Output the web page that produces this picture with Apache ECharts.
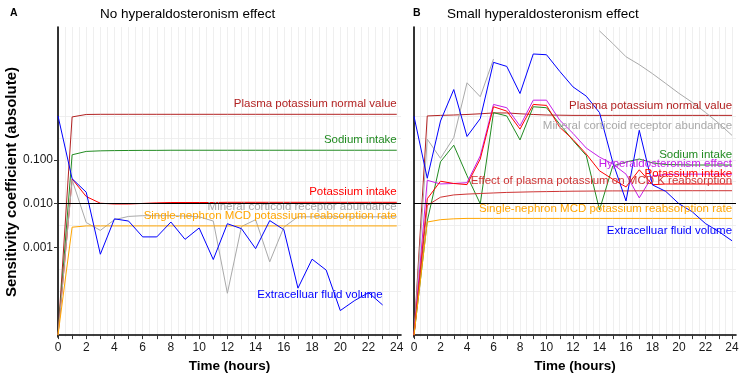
<!DOCTYPE html>
<html>
<head>
<meta charset="utf-8">
<title>Sensitivity coefficients over time</title>
<script src="https://cdn.jsdelivr.net/npm/echarts@6/dist/echarts.min.js"></script>
<style>
  html, body { margin: 0; padding: 0; background: #fff; }
  #chart { width: 748px; height: 378px; }
</style>
</head>
<body>
<div id="chart"></div>
<script>
// --- data (sensitivity coefficients, absolute) ---
const hours = [0, 1, 2, 3, 4, 5, 6, 7, 8, 9, 10, 11, 12, 13, 14, 15, 16, 17, 18, 19, 20, 21, 22, 23, 24]
const xTickValues = [0, 1, 2, 3, 4, 5, 6, 7, 8, 9, 10, 11, 12, 13, 14, 15, 16, 17, 18, 19, 20, 21, 22, 23, 24]
const xLabelValues = [0, 2, 4, 6, 8, 10, 12, 14, 16, 18, 20, 22, 24]
const yTickValues = [0.001, 0.01, 0.1]
const yTickLabels = ['0.001', '0.010', '0.100']
const refLine = 0.01

// Panel A: no hyperaldosteronism effect
const plasmaA = [0, 0.95, 1.08, 1.09, 1.09, 1.09, 1.09, 1.09, 1.09, 1.09, 1.09, 1.09, 1.09, 1.09, 1.09, 1.09, 1.09, 1.09, 1.09, 1.09, 1.09, 1.09, 1.09, 1.09, 1.09]
const sodiumA = [0, 0.13, 0.155, 0.16, 0.162, 0.163, 0.164, 0.164, 0.165, 0.165, 0.165, 0.165, 0.165, 0.165, 0.165, 0.165, 0.165, 0.165, 0.165, 0.165, 0.165, 0.165, 0.165, 0.165, 0.165]
const potassiumA = [0, 0.0366, 0.0145, 0.0102, 0.0098, 0.0098, 0.0101, 0.0104, 0.0106, 0.0106, 0.0106, 0.0106, 0.0107, 0.0107, 0.0107, 0.0107, 0.0107, 0.0107, 0.0107, 0.0107, 0.0107, 0.0107, 0.0107, 0.0107, 0.0107]
const mineralA = [0, 0.0347, 0.0037, 0.00245, 0.0043, 0.0051, 0.0053, 0.0053, 0.0053, 0.0052, 0.005, 0.004, 0.000089, 0.003, 0.0043, 0.00047, 0.0029, 0.005, 0.005, 0.005, 0.005, 0.005, 0.005, 0.005, 0.005]
const mcdA = [0, 0.0029, 0.0031, 0.0031, 0.0031, 0.0031, 0.0031, 0.0031, 0.0031, 0.0031, 0.0031, 0.0031, 0.0031, 0.0031, 0.0031, 0.0031, 0.0031, 0.0031, 0.0031, 0.0031, 0.0031, 0.0031, 0.0031, 0.0031, 0.0031]
const ecfA = [1.0, 0.037, 0.0182, 0.0007, 0.0045, 0.004, 0.00174, 0.00174, 0.0038, 0.00153, 0.00278, 0.00053, 0.00348, 0.00268, 0.00094, 0.0041, 0.00255, 0.000117, 0.00054, 0.000304, 0.0000336, 0.0000594, 0.000092, 0.0000466]

// Panel B: small hyperaldosteronism effect
const plasmaB = [0, 1.0, 1.03, 1.05, 1.08, 1.12, 1.17, 1.17, 1.12, 1.08, 1.05, 1.04, 1.03, 1.03, 1.03, 1.03, 1.03, 1.03, 1.03, 1.03, 1.03, 1.03, 1.03, 1.03, 1.03]
const mineralB = [0, 0.295, 0.108, 0.32, 5.7, 2.74, 19.9, null, null, null, null, null, null, null, 87, 45, 22.4, 14.8, 9.2, 5.5, 3.27, 2.04, 1.2, 0.68, 0.36]
const sodiumB = [0, 0.004, 0.09, 0.215, 0.0434, 0.0099, 1.19, 1.0, 0.284, 1.62, 1.54, 0.65, 0.275, 0.125, 0.0072, 0.072, 0.089, 0.104, 0.085, 0.078, 0.077, 0.076, 0.076, 0.076, 0.076]
const hyperB = [0, 0.034, 0.0281, 0.0288, 0.03, 0.123, 1.83, 1.54, 0.59, 2.29, 2.29, 0.8, 0.4, 0.185, 0.115, 0.08, 0.047, 0.0135, 0.043, 0.046, 0.047, 0.047, 0.047, 0.047, 0.047]
const potassiumB = [0, 0.0129, 0.0324, 0.0288, 0.0271, 0.104, 1.62, 1.29, 0.5, 1.83, 1.74, 0.55, 0.29, 0.135, 0.056, 0.036, 0.024, 0.059, 0.027, 0.028, 0.028, 0.028, 0.028, 0.028, 0.028]
const effectB = [0, 0.0091, 0.014, 0.0158, 0.0165, 0.017, 0.0175, 0.018, 0.0183, 0.0186, 0.0188, 0.019, 0.0192, 0.0193, 0.0194, 0.0195, 0.0195, 0.0196, 0.0196, 0.0197, 0.0197, 0.0197, 0.0197, 0.0197, 0.0197]
const mcdB = [0, 0.0038, 0.0043, 0.0045, 0.0046, 0.0046, 0.0046, 0.0046, 0.0046, 0.0046, 0.0046, 0.0046, 0.0046, 0.0046, 0.0046, 0.0046, 0.0046, 0.0046, 0.0046, 0.0046, 0.0046, 0.0046, 0.0046, 0.0046, 0.0046]
const ecfB = [0.98, 0.0379, 0.766, 4.0, 0.34, 0.87, 16.7, 13.5, 3.25, 25.9, 24.9, 10.4, 4.6, 2.83, 1.19, 0.088, 0.0115, 0.47, 0.0267, 0.019, 0.0099, 0.0065, 0.0035, 0.0023, 0.00142]

const FONT = '"Liberation Sans", Arial, sans-serif'
const GRID_COLOR = '#ebebeb'

// pseudo-log scale (asinh with sigma = 1e-5), the y axis works in these units
const SIGMA = 1e-5
const tr = v => (v == null ? null : Math.asinh(v / (2 * SIGMA)))

const yTickU = yTickValues.map(tr)
// minor grid lines: midpoints between majors, extended one step each way
const step = yTickU[1] - yTickU[0]
const ext = [yTickU[0] - step, ...yTickU, yTickU[yTickU.length - 1] + step]
const yGridU = []
ext.forEach((u, i) => {
  yGridU.push(u)
  if (i < ext.length - 1) yGridU.push(u + step / 2)
})
const xGridValues = []
for (let t = 0; t <= 24; t += 0.5) xGridValues.push(t)

const Y_MIN = -0.104
const Y_MAX = 16.185
const X_MAX = 24.3

function mainX(gridIndex, showName) {
  return {
    type: 'value', gridIndex, min: 0, max: X_MAX,
    axisLine: { show: true, lineStyle: { color: '#000', width: 1.6 } },
    axisTick: { show: true, length: 4, customValues: xTickValues, lineStyle: { color: '#333', width: 1 } },
    axisLabel: { customValues: xLabelValues, margin: 5, fontSize: 12, color: '#1a1a1a', fontFamily: FONT },
    splitLine: { show: false },
    name: showName ? 'Time (hours)' : '',
    nameLocation: 'middle', nameGap: 20,
    nameTextStyle: { fontSize: 13.5, fontWeight: 'bold', color: '#000', fontFamily: FONT },
  }
}
function gridX(gridIndex) {
  return {
    type: 'value', gridIndex, min: 0, max: X_MAX,
    axisLine: { show: false },
    axisTick: { show: false, customValues: xGridValues },
    axisLabel: { show: false },
    splitLine: { show: true, lineStyle: { color: GRID_COLOR, width: 0.8 } },
  }
}
function mainY(gridIndex, withLabels) {
  return {
    type: 'value', gridIndex, min: Y_MIN, max: Y_MAX,
    axisLine: { show: true, lineStyle: { color: '#000', width: 1.6 } },
    axisTick: { show: withLabels, length: 4, customValues: yTickU, lineStyle: { color: '#333', width: 1 } },
    axisLabel: {
      show: withLabels, customValues: yTickU, margin: 5, fontSize: 12, color: '#1a1a1a', fontFamily: FONT,
      formatter: val => {
        const i = yTickU.findIndex(u => Math.abs(u - val) < 1e-6)
        return i < 0 ? '' : yTickLabels[i]
      },
    },
    splitLine: { show: false },
    name: withLabels ? 'Sensitivity coefficient (absolute)' : '',
    nameLocation: 'middle', nameGap: 34,
    nameTextStyle: { fontSize: 15, fontWeight: 'bold', color: '#000', fontFamily: FONT },
  }
}
function gridY(gridIndex) {
  return {
    type: 'value', gridIndex, min: Y_MIN, max: Y_MAX,
    axisLine: { show: false },
    axisTick: { show: false, customValues: yGridU },
    axisLabel: { show: false },
    splitLine: { show: true, lineStyle: { color: GRID_COLOR, width: 0.8 } },
  }
}

function line(name, color, values, panel, withRef) {
  const s = {
    name, type: 'line',
    xAxisIndex: panel * 2, yAxisIndex: panel * 2,
    data: values.map((v, i) => [hours[i], tr(v)]),
    showSymbol: false, connectNulls: false,
    lineStyle: { color, width: 1 },
    itemStyle: { color },
    endLabel: {
      show: true, formatter: name, color, fontSize: 11.5, fontFamily: FONT,
      align: 'right', verticalAlign: 'middle', distance: 0, offset: [0, -10],
    },
    silent: true,
  }
  if (withRef) {
    s.markLine = {
      silent: true, symbol: ['none', 'none'], label: { show: false },
      lineStyle: { color: '#000', width: 1, type: 'solid' },
      data: [{ yAxis: tr(refLine) }],
    }
  }
  return s
}

const chart = echarts.init(document.getElementById('chart'))
chart.setOption({
  animation: false,
  backgroundColor: '#fff',
  textStyle: { fontFamily: FONT },
  title: [
    { text: 'A', left: 10, top: 8, padding: 0, textStyle: { fontSize: 10.5, fontWeight: 'bold', color: '#000', fontFamily: FONT } },
    { text: 'No hyperaldosteronism effect', left: 100, top: 7, padding: 0, textStyle: { fontSize: 13.5, fontWeight: 'normal', color: '#000', fontFamily: FONT } },
    { text: 'B', left: 413, top: 8, padding: 0, textStyle: { fontSize: 10.5, fontWeight: 'bold', color: '#000', fontFamily: FONT } },
    { text: 'Small hyperaldosteronism effect', left: 447, top: 7, padding: 0, textStyle: { fontSize: 13.5, fontWeight: 'normal', color: '#000', fontFamily: FONT } },
  ],
  grid: [
    { left: 58, top: 27, width: 343, height: 312 },
    { left: 414, top: 27, width: 322, height: 312 },
  ],
  xAxis: [mainX(0, true), gridX(0), mainX(1, true), gridX(1)],
  yAxis: [mainY(0, true), gridY(0), mainY(1, false), gridY(1)],
  series: [
    line('Plasma potassium normal value', '#b22222', plasmaA, 0, true),
    line('Sodium intake', '#228b22', sodiumA, 0),
    line('Potassium intake', '#ff0000', potassiumA, 0),
    line('Mineral corticoid receptor abundance', '#a9a9a9', mineralA, 0),
    line('Single-nephron MCD potassium reabsorption rate', '#ffa500', mcdA, 0),
    line('Extracelluar fluid volume', '#0000ff', ecfA, 0),

    line('Plasma potassium normal value', '#b22222', plasmaB, 1, true),
    line('Mineral corticoid receptor abundance', '#a9a9a9', mineralB, 1),
    line('Sodium intake', '#228b22', sodiumB, 1),
    line('Hyperaldosteronism effect', '#c61fe8', hyperB, 1),
    line('Potassium intake', '#ff0000', potassiumB, 1),
    line('Effect of plasma potassium on MCD K reabsorption', '#cd3333', effectB, 1),
    line('Single-nephron MCD potassium reabsorption rate', '#ffa500', mcdB, 1),
    line('Extracelluar fluid volume', '#0000ff', ecfB, 1),
  ],
})
</script>
</body>
</html>
